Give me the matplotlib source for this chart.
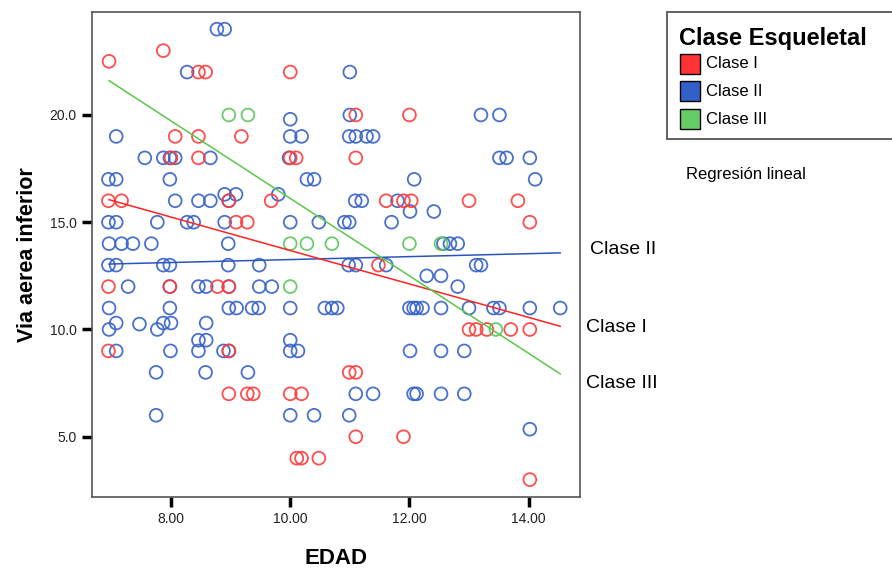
import matplotlib
matplotlib.use('Agg')
import matplotlib.pyplot as plt
from matplotlib.patches import Rectangle

plt.rcParams['font.family'] = ['Liberation Sans', 'DejaVu Sans']

# Clase I (rojo)
edad_I = [6.96, 7.87, 8.46, 8.58, 8.07, 8.46, 9.18, 8.0, 8.46, 10.0, 11.1, 12.0,
          10.0, 10.1, 11.1, 6.95, 7.17, 8.97, 9.09, 9.28, 6.95, 7.98, 8.78, 8.97,
          6.95, 8.97, 8.97, 9.28, 9.38, 9.68, 11.61, 11.9, 12.03, 11.48, 13.0,
          13.82, 14.02, 13.0, 13.12, 13.3, 13.7, 14.02, 14.02, 10.99, 11.1, 10.0,
          10.19, 11.1, 11.9, 10.11, 10.19, 10.48]
via_I = [22.5, 23.0, 22.0, 22.0, 19.0, 19.0, 19.0, 18.0, 18.0, 22.0, 20.0, 20.0,
         18.0, 18.0, 18.0, 16.0, 16.0, 16.0, 15.0, 15.0, 12.0, 12.0, 12.0, 12.0,
         9.0, 9.0, 7.0, 7.0, 7.0, 16.0, 16.0, 16.0, 16.0, 13.0, 16.0,
         16.0, 15.0, 10.0, 10.0, 10.0, 10.0, 10.0, 3.0, 8.0, 8.0, 7.0,
         7.0, 5.0, 5.0, 4.0, 4.0, 4.0]

# Clase II (azul)
edad_II = [8.77, 8.90, 8.27, 11.0, 7.08, 7.56, 7.87, 7.98, 8.07, 8.66, 6.95, 7.08,
           7.98, 10.0, 11.0, 10.0, 10.19, 10.99, 11.1, 11.28, 11.39, 9.98, 10.28,
           10.4, 12.08, 13.2, 13.51, 13.51, 13.63, 14.02, 14.11,
           8.07, 8.46, 8.66, 8.9, 9.09, 8.97,
           6.95, 7.08, 7.77, 8.27, 8.38, 8.9,
           6.96, 7.17, 7.36, 7.67, 8.96,
           6.95, 7.08, 7.87, 7.98, 8.96, 9.48,
           7.28, 7.98, 8.46, 8.59, 8.97, 9.48, 9.69,
           6.96, 7.98, 8.97, 9.1, 9.36, 9.47,
           7.08, 7.47, 7.87, 8.0, 8.59, 7.77, 6.96,
           8.46, 8.59,
           7.08, 7.99, 8.46, 8.88, 8.97,
           7.75, 8.58, 9.29,
           7.75,
           9.8, 11.09, 11.2, 11.8, 12.01, 10.0, 10.48, 10.91, 10.99, 11.7,
           10.98, 11.1, 11.61,
           10.0, 10.58, 10.7, 10.79, 12.0, 12.07, 12.12, 12.22,
           10.0, 10.0, 10.13, 12.01,
           11.1, 11.39, 10.0, 10.4, 10.99,
           12.41, 12.57, 12.68, 12.81, 13.12, 13.2, 12.29, 12.53, 12.81,
           12.53, 13.0, 13.41, 13.51, 14.02, 14.53,
           12.53, 12.92, 12.07, 12.12, 12.53, 12.92, 14.02]
via_II = [24.0, 24.0, 22.0, 22.0, 19.0, 18.0, 18.0, 18.0, 18.0, 18.0, 17.0, 17.0,
          17.0, 19.8, 20.0, 19.0, 19.0, 19.0, 19.0, 19.0, 19.0, 18.0, 17.0,
          17.0, 17.0, 20.0, 20.0, 18.0, 18.0, 18.0, 17.0,
          16.0, 16.0, 16.0, 16.3, 16.3, 16.0,
          15.0, 15.0, 15.0, 15.0, 15.0, 15.0,
          14.0, 14.0, 14.0, 14.0, 14.0,
          13.0, 13.0, 13.0, 13.0, 13.0, 13.0,
          12.0, 12.0, 12.0, 12.0, 12.0, 12.0, 12.0,
          11.0, 11.0, 11.0, 11.0, 11.0, 11.0,
          10.3, 10.25, 10.3, 10.3, 10.3, 10.0, 10.0,
          9.5, 9.5,
          9.0, 9.0, 9.0, 9.0, 9.0,
          8.0, 8.0, 8.0,
          6.0,
          16.3, 16.0, 16.0, 16.0, 15.5, 15.0, 15.0, 15.0, 15.0, 15.0,
          13.0, 13.0, 13.0,
          11.0, 11.0, 11.0, 11.0, 11.0, 11.0, 11.0, 11.0,
          9.5, 9.0, 9.0, 9.0,
          7.0, 7.0, 6.0, 6.0, 6.0,
          15.5, 14.0, 14.0, 14.0, 13.0, 13.0, 12.5, 12.5, 12.0,
          11.0, 11.0, 11.0, 11.0, 11.0, 11.0,
          9.0, 9.0, 7.0, 7.0, 7.0, 7.0, 5.35]

# Clase III (verde)
edad_III = [8.97, 9.29, 10.0, 10.28, 10.7, 12.0, 12.53, 10.0, 13.45]
via_III = [20.0, 20.0, 14.0, 14.0, 14.0, 14.0, 14.0, 12.0, 10.0]

# regresion lineal (extremos)
reg_x = [6.96, 14.53]
reg_I = [16.05, 10.15]
reg_II = [13.05, 13.57]
reg_III = [21.6, 7.93]

clases = ['Clase I', 'Clase II', 'Clase III']
col_pts = ['#ff3b3b', '#3562c8', '#5cc65c']
col_lin = ['#ff2222', '#2a55c0', '#5cc64c']
col_leg = ['#ff3333', '#3060c8', '#66cc66']

fig = plt.figure(figsize=(8.92, 5.71), dpi=100)
ax = fig.add_axes([92 / 892, 1 - 497 / 571, 488 / 892, 485 / 571])

for (xs, ys), c in zip([(edad_II, via_II), (edad_I, via_I), (edad_III, via_III)],
                       [col_pts[1], col_pts[0], col_pts[2]]):
    ax.scatter(xs, ys, s=85, facecolors='none', edgecolors=c, linewidths=1.3, alpha=0.9, zorder=3)

ax.plot(reg_x, reg_II, color=col_lin[1], lw=1.1, zorder=4)
ax.plot(reg_x, reg_I, color=col_lin[0], lw=1.1, zorder=4)
ax.plot(reg_x, reg_III, color=col_lin[2], lw=1.1, zorder=4)

ax.set_xlim(6.674, 14.862)
ax.set_ylim(2.19, 24.80)
ax.set_xticks([8, 10, 12, 14])
ax.set_xticklabels(['8.00', '10.00', '12.00', '14.00'])
ax.set_yticks([5, 10, 15, 20])
ax.set_yticklabels(['5.0', '10.0', '15.0', '20.0'])
ax.tick_params(length=7, width=2.5, color='black', labelsize=10, labelcolor='#222222', pad=4)
for sp in ax.spines.values():
    sp.set_color('#555555')
    sp.set_linewidth(1.2)

ax.set_xlabel('EDAD', fontsize=16, fontweight='bold', labelpad=16)
ax.set_ylabel('Via aerea inferior', fontsize=15.5, fontweight='bold', labelpad=8)

# etiquetas de las rectas
fig.text(590 / 892, 1 - 250 / 571, 'Clase II', fontsize=14, va='center', ha='left')
fig.text(586 / 892, 1 - 327 / 571, 'Clase I', fontsize=14, va='center', ha='left')
fig.text(586 / 892, 1 - 383 / 571, 'Clase III', fontsize=14, va='center', ha='left')

# leyenda
fig.add_artist(Rectangle((667 / 892, 1 - 139 / 571), 240 / 892, 127 / 571,
                         transform=fig.transFigure, facecolor='white',
                         edgecolor='#555555', lw=1.3, clip_on=False))
fig.text(679 / 892, 1 - 38 / 571, 'Clase Esqueletal', fontsize=17, fontweight='bold',
         va='center', ha='left')
for i, (lab, c) in enumerate(zip(clases, col_leg)):
    yc = [64, 91, 119][i]
    fig.add_artist(Rectangle((679.5 / 892, 1 - (yc + 10) / 571), 20 / 892, 20 / 571,
                             transform=fig.transFigure, facecolor=c,
                             edgecolor='black', lw=1.0))
    fig.text(706 / 892, 1 - yc / 571, lab, fontsize=12, va='center', ha='left')
fig.text(686 / 892, 1 - 175 / 571, 'Regresión lineal', fontsize=12, va='center', ha='left')

fig.savefig('out.png', dpi=100)
